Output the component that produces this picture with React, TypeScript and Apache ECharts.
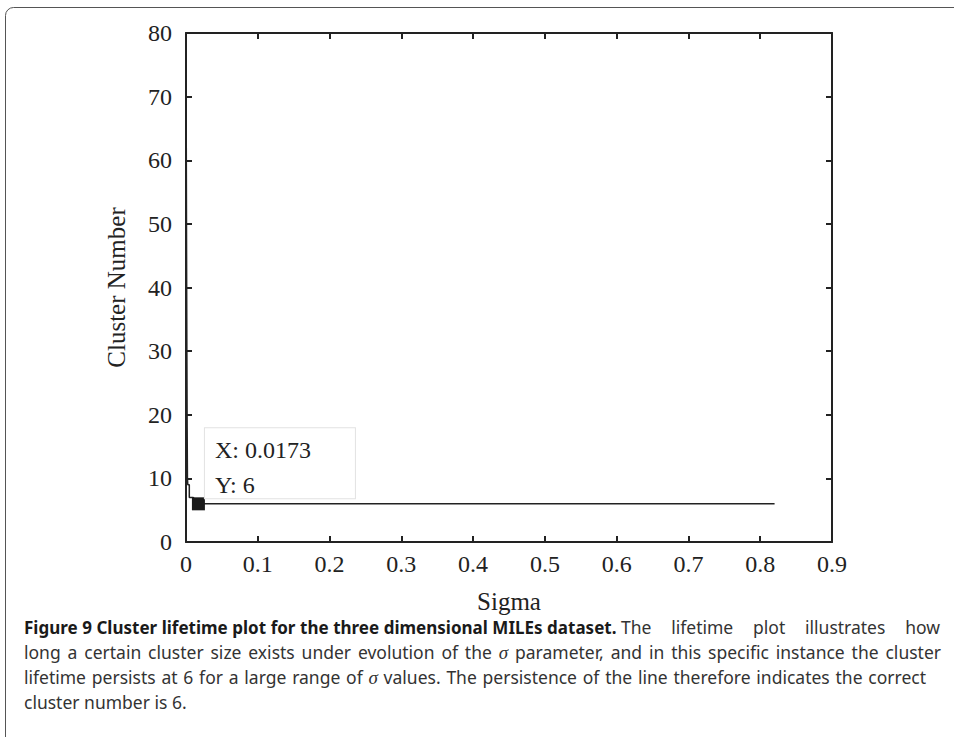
import React, { useEffect, useRef } from "react";
import * as echarts from "echarts";

// sigma values and the cluster count found at each
const sigmaValues = [0, 0.0004, 0.0008, 0.0012, 0.0016, 0.002, 0.0025, 0.0046, 0.0046, 0.01, 0.0173, 0.82];
const clusterValues = [76, 62, 45, 30, 18, 10, 9, 9, 7, 7, 6, 6];

// data tip point
const tipPoint = [0.0173, 6];
const tipLabels = ["X: 0.0173", "Y: 6"];

// axis ranges [min, max, interval]
const xRange = [0, 0.9, 0.1];
const yRange = [0, 80, 10];

const xName = "Sigma";
const yName = "Cluster Number";

// caption lines as [text, style] fragments: b = bold, n = normal, s = sigma symbol
const captionLines: [string, string][][] = [
  [
    ["Figure 9 Cluster lifetime plot for the three dimensional MILEs dataset.", "b"],
    ["The lifetime plot illustrates how", "n"],
  ],
  [
    ["long a certain cluster size exists under evolution of the", "n"],
    ["σ", "s"],
    ["parameter, and in this specific instance the cluster", "n"],
  ],
  [
    ["lifetime persists at 6 for a large range of", "n"],
    ["σ", "s"],
    ["values. The persistence of the line therefore indicates the correct", "n"],
  ],
  [["cluster number is 6.", "n"]],
];
// right edge of each justified line (null = not justified)
const captionRightEdges = [940, 941, 926, null];

const SERIF = "'Liberation Serif', 'Times New Roman', serif";
const SANS = "'Noto Sans', 'Open Sans', sans-serif";
const DARK = "#222";

const capStyles: Record<string, { font: string; fill: string; fixed: boolean }> = {
  b: { font: `bold 17px ${SANS}`, fill: "#1a1a1a", fixed: true },
  n: { font: `17.5px ${SANS}`, fill: "#333", fixed: false },
  s: { font: `italic 19px ${SERIF}`, fill: "#333", fixed: false },
};

function buildCaption() {
  const canvas = document.createElement("canvas");
  const ctx = canvas.getContext("2d")!;
  const measure = (t: string, st: string) => {
    ctx.font = capStyles[st].font;
    return ctx.measureText(t).width;
  };
  const left = 24;
  const elements: any[] = [];
  captionLines.forEach((frags, li) => {
    const words: { t: string; st: string; w: number; fixedGap: boolean }[] = [];
    frags.forEach(([text, st]) => {
      text.split(" ").filter(Boolean).forEach((t) => {
        words.push({ t, st, w: measure(t, st), fixedGap: capStyles[st].fixed });
      });
    });
    const total = words.reduce((a, w) => a + w.w, 0);
    let fixedSum = 0;
    let flexCount = 0;
    words.forEach((w, i) => {
      if (i === words.length - 1) return;
      if (w.fixedGap) fixedSum += measure(" ", "n");
      else flexCount++;
    });
    const edge = captionRightEdges[li];
    const flexGap =
      edge != null && flexCount > 0
        ? (edge - left - total - fixedSum) / flexCount
        : measure(" ", "n");
    let x = left;
    const y = 627 + li * 25;
    words.forEach((w) => {
      elements.push({
        type: "text",
        x,
        y,
        silent: true,
        style: {
          text: w.t,
          font: capStyles[w.st].font,
          fill: capStyles[w.st].fill,
          verticalAlign: "middle",
          align: "left",
        },
      });
      x += w.w + (w.fixedGap ? measure(" ", "n") : flexGap);
    });
  });
  return elements;
}

export default function App() {
  const ref = useRef<HTMLDivElement>(null);

  useEffect(() => {
    if (!ref.current) return;
    const chart = echarts.init(ref.current, undefined, { renderer: "svg" });

    const lineData = sigmaValues.map((s, i) => [s, clusterValues[i]]);

    const axisCommon = {
      type: "value" as const,
      axisLine: { show: true, onZero: false, lineStyle: { color: DARK, width: 2 } },
      axisTick: { show: true, inside: true, length: 6, lineStyle: { color: DARK, width: 2 } },
      splitLine: { show: false },
    };

    chart.setOption({
      animation: false,
      backgroundColor: "#fff",
      grid: { left: 186, right: 122, top: 33, bottom: 195, containLabel: false },
      xAxis: [
        {
          ...axisCommon,
          position: "bottom",
          min: xRange[0],
          max: xRange[1],
          interval: xRange[2],
          name: xName,
          nameLocation: "middle",
          nameGap: 47,
          nameTextStyle: { fontFamily: SERIF, fontSize: 25, color: DARK },
          axisLabel: { fontFamily: SERIF, fontSize: 24, color: DARK, margin: 10 },
        },
        {
          ...axisCommon,
          position: "top",
          min: xRange[0],
          max: xRange[1],
          interval: xRange[2],
          axisLabel: { show: false },
        },
      ],
      yAxis: [
        {
          ...axisCommon,
          position: "left",
          min: yRange[0],
          max: yRange[1],
          interval: yRange[2],
          name: yName,
          nameLocation: "middle",
          nameGap: 57,
          nameRotate: 90,
          nameTextStyle: { fontFamily: SERIF, fontSize: 25, color: DARK },
          axisLabel: { fontFamily: SERIF, fontSize: 24, color: DARK, margin: 14 },
        },
        {
          ...axisCommon,
          position: "right",
          min: yRange[0],
          max: yRange[1],
          interval: yRange[2],
          axisLabel: { show: false },
        },
      ],
      series: [
        {
          type: "line",
          data: lineData,
          showSymbol: false,
          symbol: "none",
          lineStyle: { color: DARK, width: 1.5 },
          z: 2,
        },
        {
          type: "scatter",
          data: [tipPoint],
          symbol: "rect",
          symbolSize: 13,
          itemStyle: { color: "#1a1a1a", opacity: 1 },
          z: 5,
          label: {
            show: true,
            position: [13, -69],
            formatter: "{a|" + tipLabels[0] + "}\n{c|" + tipLabels[1] + "}",
            backgroundColor: "#fff",
            borderColor: "#e2e2e2",
            borderWidth: 1,
            padding: [0, 44, 0, 10],
            rich: {
              a: { fontFamily: SERIF, fontSize: 24, color: DARK, lineHeight: 44 },
              c: { fontFamily: SERIF, fontSize: 24, color: DARK, lineHeight: 26 },
            },
          },
        },
      ],
      graphic: [
        {
          type: "rect",
          shape: { x: 5.5, y: 7.5, width: 960, height: 760, r: 8 },
          style: { fill: "none", stroke: "#555", lineWidth: 1 },
          silent: true,
        },
        ...buildCaption(),
      ],
    });

    return () => chart.dispose();
  }, []);

  return (
    <div
      ref={ref}
      style={{ position: "fixed", left: 0, top: 0, width: 954, height: 737 }}
    />
  );
}
